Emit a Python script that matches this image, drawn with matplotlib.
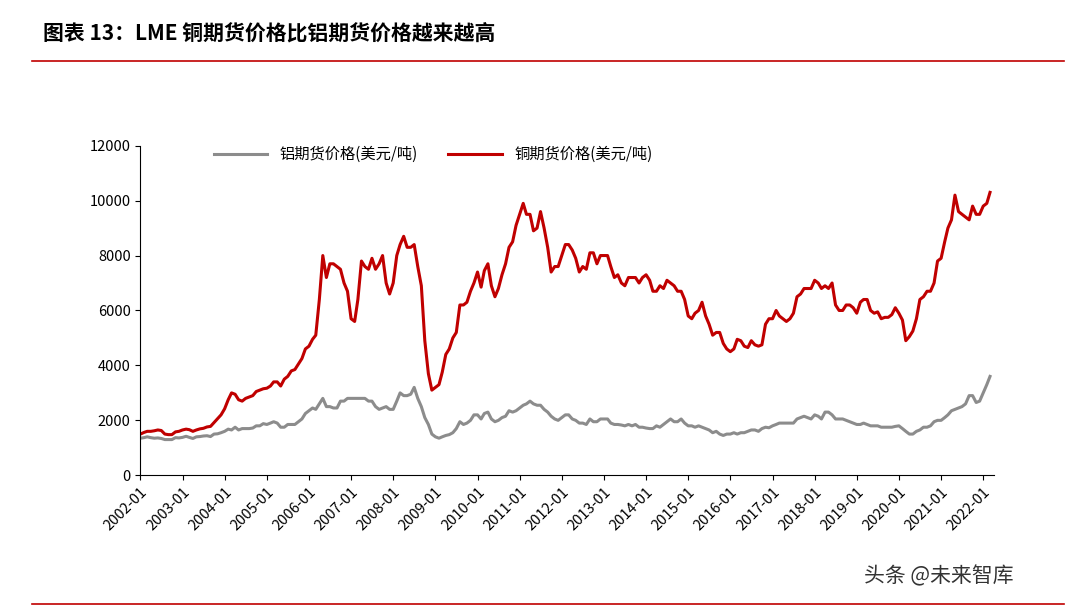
import matplotlib.pyplot as plt
import numpy as np
import pandas as pd

plt.rcParams['font.family'] = ['Noto Sans CJK SC', 'DejaVu Sans']

years = list(range(2002, 2023))
copper = [
    1500,1560,1600,1600,1620,1650,1630,1500,1480,1480,1580,1600,
    1650,1680,1660,1600,1650,1690,1710,1760,1780,1920,2060,2200,
    2420,2750,3000,2950,2750,2700,2800,2850,2900,3050,3100,3150,
    3170,3250,3400,3400,3250,3500,3600,3800,3850,4050,4250,4600,
    4700,4950,5100,6400,8000,7200,7700,7700,7600,7500,7000,6700,
    5700,5600,6400,7800,7600,7500,7900,7500,7700,8000,7000,6600,
    7000,8000,8400,8700,8300,8300,8400,7600,6900,4900,3700,3100,
    3200,3300,3750,4400,4600,5000,5200,6200,6200,6300,6700,7000,
    7400,6850,7450,7700,6900,6500,6800,7300,7700,8300,8500,9100,
    9500,9900,9500,9500,8900,9000,9600,9000,8300,7400,7600,7600,
    8000,8400,8400,8200,7900,7400,7600,7500,8100,8100,7700,8000,
    8000,8000,7600,7200,7300,7000,6900,7200,7200,7200,7000,7200,
    7300,7100,6700,6700,6900,6800,7100,7000,6900,6700,6700,6400,
    5800,5700,5900,6000,6300,5800,5500,5100,5200,5200,4800,4600,
    4500,4600,4950,4900,4700,4650,4900,4750,4700,4750,5500,5700,
    5700,6000,5800,5700,5600,5700,5900,6500,6600,6800,6800,6800,
    7100,7000,6800,6900,6800,7000,6200,6000,6000,6200,6200,6100,
    5900,6300,6400,6400,6000,5900,5950,5700,5750,5750,5850,6100,
    5900,5650,4900,5050,5250,5700,6400,6500,6700,6700,7000,7800,
    7900,8500,9000,9300,10200,9600,9500,9400,9300,9800,9500,9500,
    9800,9900,10300]
aluminum = [
    1350,1370,1400,1370,1350,1360,1340,1300,1300,1300,1370,1360,
    1380,1420,1380,1340,1400,1410,1430,1440,1410,1500,1510,1550,
    1600,1680,1650,1750,1650,1700,1700,1700,1720,1800,1800,1880,
    1850,1900,1950,1900,1750,1750,1850,1850,1850,1950,2050,2250,
    2350,2450,2400,2600,2800,2500,2500,2450,2450,2700,2700,2800,
    2800,2800,2800,2800,2800,2700,2700,2500,2400,2450,2500,2400,
    2400,2700,3000,2900,2900,2950,3200,2800,2500,2100,1850,1500,
    1400,1350,1400,1450,1480,1550,1700,1950,1850,1900,2000,2200,
    2200,2050,2250,2300,2050,1950,2000,2100,2150,2350,2300,2350,
    2450,2550,2600,2700,2600,2550,2550,2400,2300,2150,2050,2000,
    2100,2200,2200,2050,2000,1900,1900,1850,2050,1950,1950,2050,
    2050,2050,1900,1850,1850,1830,1800,1850,1800,1850,1750,1750,
    1720,1700,1700,1800,1750,1850,1950,2050,1950,1950,2050,1900,
    1800,1800,1750,1800,1750,1700,1650,1550,1600,1500,1450,1500,
    1500,1550,1500,1550,1550,1600,1650,1650,1600,1700,1750,1730,
    1800,1850,1900,1900,1900,1900,1900,2050,2100,2150,2100,2050,
    2200,2150,2050,2300,2300,2200,2050,2050,2050,2000,1950,1900,
    1850,1850,1900,1850,1800,1800,1800,1750,1750,1750,1750,1780,
    1800,1700,1600,1500,1500,1600,1650,1750,1750,1800,1950,2000,
    2000,2100,2200,2350,2400,2450,2500,2600,2900,2900,2650,2700,
    3000,3300,3600]

dates = pd.date_range('2002-01-01', periods=len(copper), freq='MS')

fig = plt.figure(figsize=(10.8, 6.07), dpi=100)
fig.text(0.04, 0.945, '图表 13：LME 铜期货价格比铝期货价格越来越高', fontsize=15,
         fontweight='bold', style='italic', va='center')
fig.add_artist(plt.Line2D([0.03, 0.985], [0.9, 0.9], color='#c00000', lw=1.2))
fig.add_artist(plt.Line2D([0.03, 0.985], [0.005, 0.005], color='#c00000', lw=1.2))

ax = fig.add_axes([0.13, 0.217, 0.79, 0.543])
ax.plot(dates, aluminum, color='#8c8c8c', lw=2.2, label='铝期货价格(美元/吨)')
ax.plot(dates, copper, color='#c00000', lw=2.2, label='铜期货价格(美元/吨)')
ax.set_ylim(0, 12000)
ax.set_yticks(range(0, 12001, 2000))
ax.set_xlim(pd.Timestamp('2002-01-01'), pd.Timestamp('2022-04-01'))
ticks = [pd.Timestamp(f'{y}-01-01') for y in years]
ax.set_xticks(ticks)
ax.set_xticklabels([f'{y}-01' for y in years], rotation=45, ha='right', rotation_mode='anchor')
ax.tick_params(labelsize=10.5, direction='out')
for s in ['top', 'right']:
    ax.spines[s].set_visible(False)
ax.legend(loc='upper left', bbox_to_anchor=(0.07, 1.04), ncol=2, frameon=False,
          fontsize=11, handlelength=3.5, columnspacing=2)
fig.text(0.8, 0.04, '头条 @未来智库', fontsize=15, color='#333333')
fig.savefig('out.png')
